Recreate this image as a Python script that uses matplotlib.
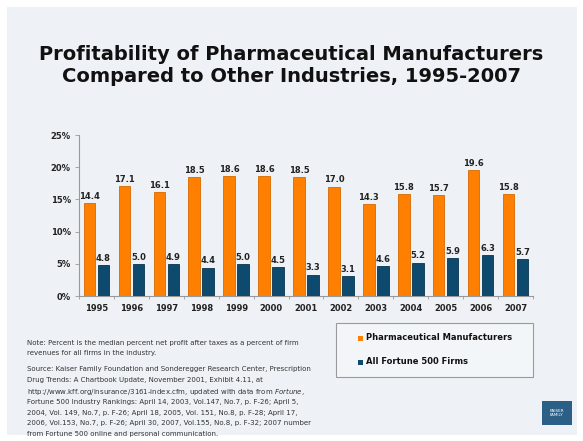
import numpy as np
import matplotlib
matplotlib.use("Agg")
import matplotlib.pyplot as plt
from matplotlib.patches import Rectangle

# ── Data ─────────────────────────────────────────────────────────────────────
years = ["1995", "1996", "1997", "1998", "1999", "2000", "2001",
         "2002", "2003", "2004", "2005", "2006", "2007"]
pharma = [14.4, 17.1, 16.1, 18.5, 18.6, 18.6, 18.5, 17.0, 14.3, 15.8, 15.7, 19.6, 15.8]
fortune = [4.8, 5.0, 4.9, 4.4, 5.0, 4.5, 3.3, 3.1, 4.6, 5.2, 5.9, 6.3, 5.7]
series_names = ["Pharmaceutical Manufacturers", "All Fortune 500 Firms"]
y_ticks = [0, 5, 10, 15, 20, 25]

ORANGE = "#FF8000"
ORANGE_EDGE = "#D86A00"
NAVY = "#0D4A6E"
NAVY_EDGE = "#08344F"
BG = "#EEF2F6"

W, H = 583, 441
fig = plt.figure(figsize=(W / 100, H / 100), dpi=100)
fig.patch.set_facecolor("white")

def px(x0, y0, x1, y1):
    """pixel box (top-left origin) -> figure fraction rect"""
    return [x0 / W, 1 - y1 / H, (x1 - x0) / W, (y1 - y0) / H]

# slide background
fig.patches.append(Rectangle((7 / W, 1 - 435 / H), 570 / W, 428 / H,
                             transform=fig.transFigure, facecolor=BG,
                             edgecolor="none", zorder=-5))

fig.text(0.5, 1 - 54 / H, "Profitability of Pharmaceutical Manufacturers",
         ha="center", va="center", fontsize=14, fontweight="bold", color="#111111")
fig.text(0.5, 1 - 76 / H, "Compared to Other Industries, 1995-2007",
         ha="center", va="center", fontsize=14, fontweight="bold", color="#111111")

ax = fig.add_axes(px(79, 135, 533, 296))
ax.set_zorder(5)
ax.set_facecolor("none")
x = np.arange(len(years))
bw = 0.33
ax.bar(x - 0.2, pharma, width=bw, color=ORANGE, edgecolor=ORANGE_EDGE, linewidth=0.6, zorder=3)
ax.bar(x + 0.2, fortune, width=bw, color=NAVY, edgecolor=NAVY_EDGE, linewidth=0.6, zorder=3)

for xi, v in zip(x, pharma):
    ax.text(xi - 0.2, v + 0.35, f"{v:.1f}", ha="center", va="bottom",
            fontsize=6, fontweight="bold", color="#222222")
for xi, v in zip(x, fortune):
    ax.text(xi + 0.2, v + 0.35, f"{v:.1f}", ha="center", va="bottom",
            fontsize=6, fontweight="bold", color="#222222")

ax.set_xlim(-0.5, len(years) - 0.5)
ax.set_ylim(0, 25)
ax.set_yticks(y_ticks)
ax.set_yticklabels([f"{t}%" for t in y_ticks], fontsize=6, fontweight="bold", color="#222222")
ax.set_xticks(x)
ax.set_xticklabels(years, fontsize=6, fontweight="bold", color="#222222")
ax.set_xticks(np.arange(len(years) + 1) - 0.5, minor=True)
ax.tick_params(axis="x", which="major", length=0, pad=6)
ax.tick_params(axis="x", which="minor", length=2.5, color="#999999", width=0.6)
ax.tick_params(axis="y", length=3, color="#999999", width=0.6, pad=3)
for s in ["top", "right"]:
    ax.spines[s].set_visible(False)
for s in ["left", "bottom"]:
    ax.spines[s].set_color("#999999")
    ax.spines[s].set_linewidth(0.8)

# legend box
fig.patches.append(Rectangle((336 / W, 1 - 377 / H), 197 / W, 54 / H,
                             transform=fig.transFigure, facecolor="#F3F6F9",
                             edgecolor="#9A9A9A", linewidth=0.8, zorder=1))
for (name, col, yy) in [(series_names[0], ORANGE, 338), (series_names[1], NAVY, 362)]:
    fig.patches.append(Rectangle((358 / W, 1 - (yy + 2.5) / H), 5 / W, 5 / H,
                                 transform=fig.transFigure, facecolor=col,
                                 edgecolor="none", zorder=2))
    fig.text(366 / W, 1 - yy / H, name, ha="left", va="center",
             fontsize=6, fontweight="bold", color="#111111")

note_lines = [
    "Note: Percent is the median percent net profit after taxes as a percent of firm",
    "revenues for all firms in the industry.",
]
source_lines = [
    "Source: Kaiser Family Foundation and Sonderegger Research Center, Prescription",
    "Drug Trends: A Chartbook Update, November 2001, Exhibit 4.11, at",
    "http://www.kff.org/insurance/3161-index.cfm, updated with data from $\\it{Fortune}$,",
    "Fortune 500 Industry Rankings: April 14, 2003, Vol.147, No.7, p. F-26; April 5,",
    "2004, Vol. 149, No.7, p. F-26; April 18, 2005, Vol. 151, No.8, p. F-28; April 17,",
    "2006, Vol.153, No.7, p. F-26; April 30, 2007, Vol.155, No.8, p. F-32; 2007 number",
    "from Fortune 500 online and personal communication.",
]
for i, line in enumerate(note_lines):
    fig.text(27 / W, 1 - (343 + 10.5 * i) / H, line, ha="left", va="center",
             fontsize=5.0, color="#333333")
for i, line in enumerate(source_lines):
    fig.text(27 / W, 1 - (369.5 + 10.8 * i) / H, line, ha="left", va="center",
             fontsize=5.0, color="#333333")

# logo
fig.patches.append(Rectangle((542 / W, 1 - 425 / H), 30 / W, 24 / H,
                             transform=fig.transFigure, facecolor="#2B5F86",
                             edgecolor="none", zorder=2))
fig.text(557 / W, 1 - 413 / H, "KAISER\nFAMILY", ha="center", va="center",
         fontsize=3, color="white", linespacing=1.0)

fig.savefig("out.png", dpi=100, facecolor="white")
